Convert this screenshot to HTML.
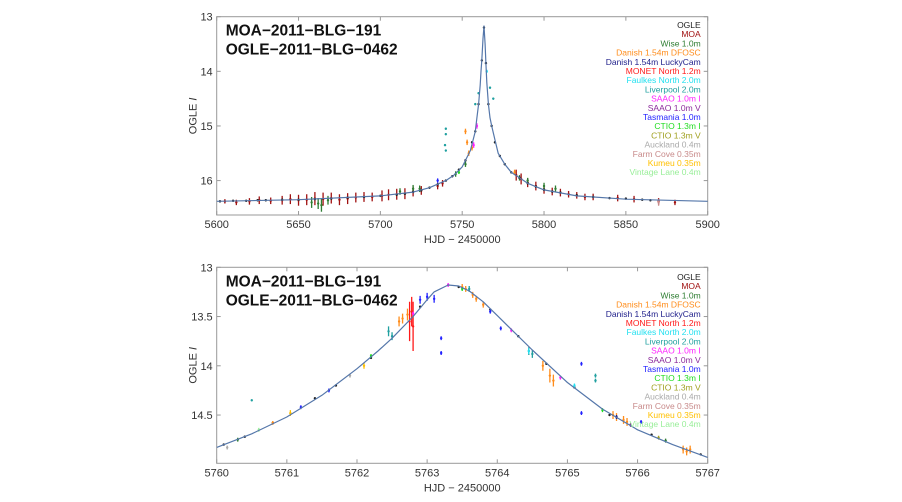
<!DOCTYPE html>
<html><head><meta charset="utf-8"><style>
body{margin:0;background:#fff;width:902px;height:502px;overflow:hidden;font-family:"Liberation Sans",sans-serif}
svg{display:block}
</style></head><body>
<svg id="c" width="902" height="502" font-family="Liberation Sans, sans-serif"></svg>
<script>
// ---- data ----
const seriesNames=["OGLE","MOA","Wise 1.0m","Danish 1.54m DFOSC","Danish 1.54m LuckyCam","MONET North 1.2m","Faulkes North 2.0m","Liverpool 2.0m","SAAO 1.0m I","SAAO 1.0m V","Tasmania 1.0m","CTIO 1.3m I","CTIO 1.3m V","Auckland 0.4m","Farm Cove 0.35m","Kumeu 0.35m","Vintage Lane 0.4m"];
const seriesColors=["#222","#a01010","#2e7d32","#ff8c1a","#22228c","#ff1a1a","#22e0f0","#20a0a0","#ff22ff","#8b2a9b","#2222ff","#22dd22","#a0a020","#aaaaaa","#c88a8a","#ffc000","#98ee98"];
// model light curve (top panel, full season)
const modelTopT=[5600,5650,5700,5720,5730,5740,5745,5750,5755,5758,5759,5760,5761,5761.5,5762,5762.7,5763.3,5764,5764.5,5765,5766,5767,5768,5770,5772,5776,5780,5790,5800,5820,5850,5900];
const modelTopM=[16.38,16.35,16.28,16.21,16.13,16.0,15.9,15.75,15.45,15.1,14.85,14.6,14.25,14.0,13.8,13.4,13.17,13.5,13.85,14.2,14.6,14.85,15.0,15.25,15.5,15.7,15.85,16.05,16.17,16.28,16.34,16.38];
// model light curve (bottom panel, peak zoom)
const modelBotT=[5760,5760.5,5761,5761.5,5762,5762.3,5762.5,5762.8,5763,5763.1,5763.3,5763.45,5763.6,5763.8,5764,5764.5,5765,5765.5,5766,5766.5,5767];
const modelBotM=[14.83,14.69,14.52,14.3,14.03,13.85,13.72,13.5,13.33,13.25,13.18,13.19,13.24,13.35,13.49,13.84,14.17,14.44,14.65,14.8,14.93];
// observations: [series index, time, mag, error]
const obsTop=[
[1,5605,16.38,0.04],[1,5612,16.4,0.05],[1,5620,16.38,0.06],[1,5626,16.36,0.07],[1,5633,16.37,0.06],[1,5640,16.36,0.08],[1,5645,16.34,0.09],[1,5650,16.36,0.1],[1,5655,16.35,0.1],[1,5660,16.33,0.12],[1,5665,16.34,0.12],[1,5670,16.32,0.1],[1,5675,16.35,0.1],[1,5680,16.33,0.1],[1,5685,16.31,0.09],[1,5690,16.3,0.09],[1,5695,16.3,0.08],[1,5701,16.28,0.1],[1,5705,16.26,0.1],[1,5710,16.25,0.1],[1,5715,16.24,0.1],[1,5720,16.2,0.09],[1,5725,16.18,0.08],[1,5735,16.1,0.06],[1,5738,16.05,0.06],[1,5783,15.9,0.1],[1,5786,15.97,0.1],[1,5790,16.04,0.08],[1,5795,16.1,0.08],[1,5800,16.16,0.08],[1,5805,16.2,0.07],[1,5810,16.22,0.07],[1,5815,16.25,0.06],[1,5820,16.27,0.06],[1,5825,16.3,0.06],[1,5830,16.3,0.06],[1,5845,16.32,0.06],[1,5855,16.34,0.06],[1,5870,16.38,0.06],[1,5880,16.4,0.05],
[2,5658,16.4,0.1],[2,5662,16.42,0.1],[2,5664,16.45,0.12],[2,5668,16.36,0.08],[2,5712,16.2,0.06],[2,5720,16.15,0.07],[2,5724,16.15,0.06],[2,5746,15.88,0.05],[2,5752,15.7,0.05],[2,5785,15.95,0.05],[2,5790,16.0,0.05],[2,5800,16.1,0.06],[2,5807,16.15,0.06],
[0,5602,16.38,0.02],[0,5610,16.37,0.02],[0,5618,16.37,0.02],[0,5625,16.36,0.02],[0,5630,16.36,0.02],[0,5640,16.35,0.02],[0,5650,16.35,0.02],[0,5660,16.34,0.02],[0,5670,16.33,0.02],[0,5680,16.31,0.02],[0,5690,16.3,0.02],[0,5700,16.28,0.02],[0,5710,16.26,0.02],[0,5715,16.24,0.02],[0,5720,16.21,0.02],[0,5725,16.18,0.02],[0,5730,16.13,0.02],[0,5735,16.07,0.02],[0,5740,16.0,0.02],[0,5744,15.92,0.02],[0,5748,15.8,0.02],[0,5752,15.63,0.02],[0,5756,15.3,0.02],[0,5758,15.1,0.02],[0,5760,14.6,0.02],[0,5762,13.8,0.02],[0,5763.3,13.2,0.02],[0,5764.5,13.85,0.02],[0,5766,14.6,0.02],[0,5768,15.0,0.02],[0,5770,15.3,0.02],[0,5773,15.55,0.02],[0,5776,15.7,0.02],[0,5780,15.85,0.02],[0,5785,15.95,0.02],[0,5790,16.05,0.02],[0,5795,16.11,0.02],[0,5800,16.17,0.02],[0,5805,16.2,0.02],[0,5810,16.22,0.02],[0,5820,16.27,0.02],[0,5830,16.3,0.02],[0,5840,16.32,0.02],[0,5850,16.33,0.02],[0,5860,16.35,0.02],[0,5865,16.36,0.02],
[3,5752,15.1,0.05],[3,5753,15.3,0.05],[3,5754,15.5,0.05],[3,5756,15.4,0.05],[3,5782,15.85,0.05],
[7,5740,15.05,0.02],[7,5740,15.15,0.02],[7,5739.5,15.35,0.02],[7,5740,15.45,0.02],[7,5758,14.6,0.02],[7,5760,14.4,0.02],[7,5767,14.3,0.02],[7,5769,14.5,0.02],
[8,5757,15.35,0.05],[8,5759,15.0,0.05],[10,5735,16.0,0.04],[6,5765,14.0,0.03],[11,5748,15.85,0.03],[14,5870,16.4,0.06]
];
const obsBot=[
[0,5760.1,14.8,0.01],[0,5760.4,14.72,0.01],[0,5760.8,14.58,0.01],[0,5761.4,14.33,0.01],[0,5761.7,14.2,0.01],[0,5762.2,13.92,0.01],[0,5762.9,13.4,0.01],[0,5763.3,13.18,0.01],[0,5763.45,13.2,0.01],[0,5763.9,13.43,0.01],[0,5764.3,13.7,0.01],[0,5764.7,13.98,0.01],[0,5765.1,14.22,0.01],[0,5765.6,14.5,0.01],[0,5766.2,14.7,0.01],[0,5766.9,14.9,0.01],
[5,5762.75,13.55,0.2],[5,5762.8,13.6,0.25],[5,5762.78,13.45,0.15],
[3,5762.6,13.55,0.05],[3,5762.65,13.52,0.05],[3,5762.72,13.48,0.06],[3,5763.5,13.2,0.03],[3,5763.55,13.22,0.03],[3,5763.65,13.28,0.03],[3,5763.7,13.32,0.03],[3,5763.8,13.38,0.03],[3,5764.65,14.0,0.05],[3,5764.75,14.1,0.07],[3,5764.8,14.15,0.06],[3,5765.65,14.5,0.04],[3,5765.7,14.52,0.04],[3,5765.8,14.55,0.04],[3,5765.85,14.57,0.04],[3,5766.65,14.85,0.04],[3,5766.7,14.87,0.04],[3,5766.75,14.85,0.04],[3,5760.8,14.58,0.02],
[10,5762.9,13.33,0.04],[10,5763.0,13.3,0.04],[10,5763.1,13.32,0.04],[10,5763.2,13.72,0.02],[10,5763.2,13.87,0.02],[10,5763.9,13.45,0.02],[10,5764.05,13.62,0.02],[10,5765.2,13.98,0.02],[10,5765.2,14.48,0.02],[10,5766.05,14.57,0.02],[10,5761.2,14.42,0.02],[10,5761.6,14.25,0.02],
[7,5762.45,13.65,0.05],[7,5762.5,13.7,0.04],[7,5763.6,13.22,0.03],[7,5764.45,13.85,0.04],[7,5764.5,13.88,0.04],[7,5765.4,14.1,0.02],[7,5765.4,14.15,0.02],[7,5760.5,14.35,0.01],
[6,5764.45,13.85,0.03],[6,5765.1,14.2,0.02],[15,5761.05,14.48,0.03],[15,5762.1,14.0,0.03],[11,5763.5,13.22,0.02],[11,5765.5,14.45,0.02],[11,5762.2,13.9,0.02],[8,5762.8,13.47,0.02],[8,5763.3,13.18,0.02],[8,5764.2,13.64,0.02],[8,5764.9,14.12,0.02],[9,5765.9,14.6,0.02],[12,5766.3,14.73,0.02],[13,5760.15,14.83,0.02],[13,5761.9,14.1,0.02],[2,5760.3,14.75,0.02],[2,5766.4,14.76,0.02],[4,5765.7,14.52,0.02],[16,5760.6,14.65,0.02]
];
// ---- drawing ----
const svg=document.getElementById('c');const NS='http://www.w3.org/2000/svg';
function el(tag,attrs,parent,txt){const e=document.createElementNS(NS,tag);for(const k in attrs)e.setAttribute(k,attrs[k]);if(txt!==undefined)e.textContent=txt;(parent||svg).appendChild(e);return e;}
function panel(cfg){
 const g=el('g',{});
 
 
 const X=t=>cfg.x0+(t-cfg.t0)/(cfg.t1-cfg.t0)*(cfg.x1-cfg.x0);
 const Y=m=>cfg.y0+(m-cfg.m0)/(cfg.m1-cfg.m0)*(cfg.y1-cfg.y0);
 const fr=el('rect',{x:cfg.x0,y:cfg.y0,width:cfg.x1-cfg.x0,height:cfg.y1-cfg.y0,fill:'none',stroke:'#999','stroke-width':1},g);
 
 cfg.xt.forEach(t=>{const x=X(t);
  el('line',{x1:x,x2:x,y1:cfg.y1,y2:cfg.y1-4,stroke:'#999'},g);el('line',{x1:x,x2:x,y1:cfg.y0,y2:cfg.y0+4,stroke:'#999'},g);
  const tl=el('text',{x:x,y:cfg.y1+13,'font-size':11,'text-anchor':'middle',fill:'#333'},g,String(t));
  });
 cfg.yt.forEach(m=>{const y=Y(m);
  el('line',{x1:cfg.x0,x2:cfg.x0+4,y1:y,y2:y,stroke:'#999'},g);el('line',{x1:cfg.x1,x2:cfg.x1-4,y1:y,y2:y,stroke:'#999'},g);
  const tl=el('text',{x:cfg.x0-4,y:y+4,'font-size':11,'text-anchor':'end',fill:'#333'},g,String(m));
  });
 const xl=el('text',{x:(cfg.x0+cfg.x1)/2,y:cfg.y1+28,'font-size':11,'text-anchor':'middle',fill:'#333'},g,'HJD − 2450000');
 
 const yc=(cfg.y0+cfg.y1)/2;
 const yl=el('text',{x:cfg.x0-20,y:yc,'font-size':11,'text-anchor':'middle',fill:'#333',transform:`rotate(-90 ${cfg.x0-20} ${yc})`},g);
 
 el('tspan',{},yl,'OGLE ');el('tspan',{'font-style':'italic'},yl,'I');
 const cp=el('clipPath',{id:cfg.name+'-clip'},g);el('rect',{x:cfg.x0,y:cfg.y0,width:cfg.x1-cfg.x0,height:cfg.y1-cfg.y0},cp);
 const dg=el('g',{'clip-path':`url(#${cfg.name}-clip)`},g);
 cfg.obs.forEach(o=>{const x=X(o[1]);
  const l=el('line',{x1:x,x2:x,y1:Y(o[2]-o[3]),y2:Y(o[2]+o[3]),stroke:seriesColors[o[0]],'stroke-width':1.3},dg);
  
  el('circle',{cx:x,cy:Y(o[2]),r:1.2,fill:seriesColors[o[0]]},dg);});
 const d=cfg.mt.map((t,i)=>(i?'L':'M')+X(t).toFixed(1)+','+Y(cfg.mm[i]).toFixed(1)).join('');
 const ml=el('path',{d:d,fill:'none',stroke:'#5577aa','stroke-width':1.2,'stroke-linejoin':'round'},dg);
 
 const t1=el('text',{x:cfg.x0+9,y:cfg.y0+19,'font-size':15.5,'font-weight':'bold',fill:'#111'},g,'MOA−2011−BLG−191');
 
 const t2=el('text',{x:cfg.x0+9,y:cfg.y0+38,'font-size':15.5,'font-weight':'bold',fill:'#111'},g,'OGLE−2011−BLG−0462');
 
 seriesNames.forEach((n,i)=>{
  const lt=el('text',{x:cfg.x1-7,y:cfg.ly+i*9.2,'font-size':8.5,'text-anchor':'end',fill:seriesColors[i]},g,n);
  });
}
panel({name:'top-panel',x0:216.7,x1:707.7,y0:16.7,y1:215,t0:5600,t1:5900,m0:13,m1:16.63,xt:[5600,5650,5700,5750,5800,5850,5900],yt:[13,14,15,16],obs:obsTop,mt:modelTopT,mm:modelTopM,ly:28});
panel({name:'bottom-panel',x0:216.7,x1:707.7,y0:267.3,y1:463.3,t0:5760,t1:5767,m0:13,m1:14.99,xt:[5760,5761,5762,5763,5764,5765,5766,5767],yt:[13,13.5,14,14.5],obs:obsBot,mt:modelBotT,mm:modelBotM,ly:280});
</script>
</body></html>
